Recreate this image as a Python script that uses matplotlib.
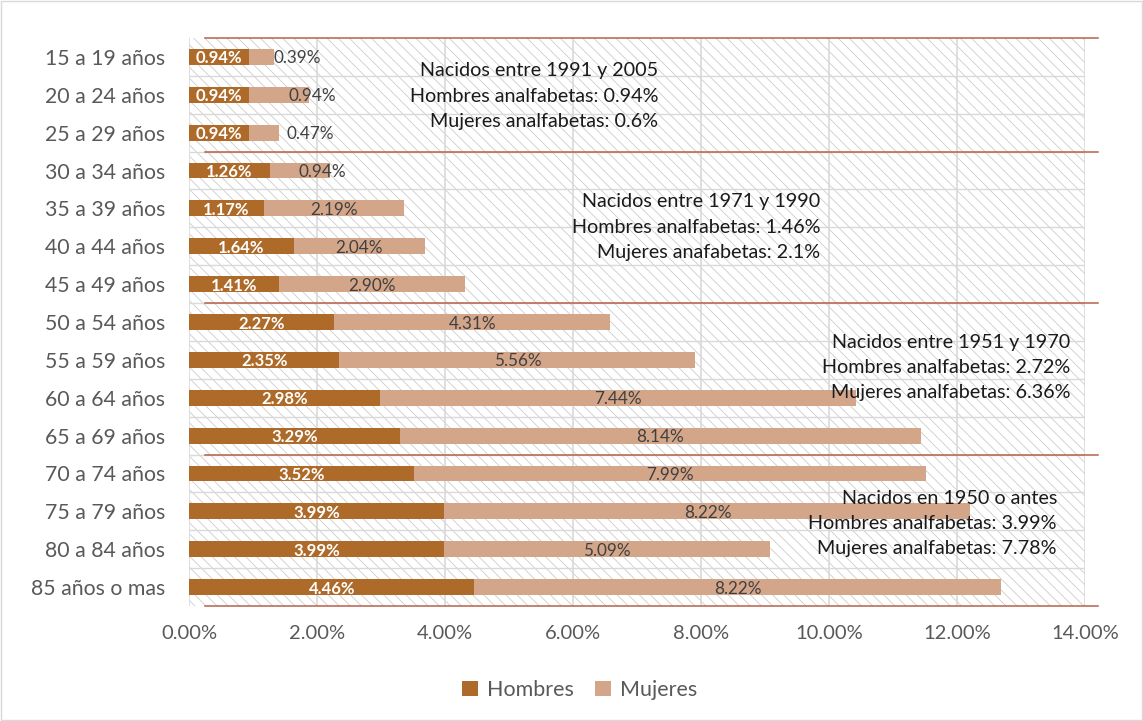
import numpy as np
import matplotlib.pyplot as plt
from matplotlib.patches import Rectangle

plt.rcParams['font.family'] = ['Lato', 'DejaVu Sans']
plt.rcParams['hatch.linewidth'] = 0.6
plt.rcParams['hatch.color'] = '#cccccc'

# data
grupos = ['15 a 19 años', '20 a 24 años', '25 a 29 años', '30 a 34 años',
          '35 a 39 años', '40 a 44 años', '45 a 49 años', '50 a 54 años',
          '55 a 59 años', '60 a 64 años', '65 a 69 años', '70 a 74 años',
          '75 a 79 años', '80 a 84 años', '85 años o mas']
hombres = [0.94, 0.94, 0.94, 1.26, 1.17, 1.64, 1.41, 2.27, 2.35, 2.98,
           3.29, 3.52, 3.99, 3.99, 4.46]
mujeres = [0.39, 0.94, 0.47, 0.94, 2.19, 2.04, 2.90, 4.31, 5.56, 7.44,
           8.14, 7.99, 8.22, 5.09, 8.22]

cortes = [2.5, 6.5, 10.5]  # separacion de cohortes
notas = [
    ['Nacidos entre 1991 y 2005', 'Hombres analfabetas: 0.94%', 'Mujeres analfabetas: 0.6%'],
    ['Nacidos entre 1971 y 1990', 'Hombres analfabetas: 1.46%', 'Mujeres anafabetas: 2.1%'],
    ['Nacidos entre 1951 y 1970', 'Hombres analfabetas: 2.72%', 'Mujeres analfabetas: 6.36%'],
    ['Nacidos en 1950 o antes', 'Hombres analfabetas: 3.99%', 'Mujeres analfabetas: 7.78%'],
]

# layout of the notes (x right edge, y of first line) and small-label shifts
nota_x = [7.33, 9.86, 13.77, 13.56]
nota_y = [0.37, 3.83, 7.53, 11.65]
label_fix = {0: 1.69, 1: 1.92, 2: 1.90, 3: 2.08}

c_h = '#ad6a29'
c_m = '#d3a68a'
gris = '#595959'

fig = plt.figure(figsize=(11.43, 7.21), dpi=100)
ax = fig.add_axes([0.1654, 0.1595, 0.7839, 0.7878])

y = np.arange(len(grupos))
ax.set_xlim(0, 14)
ax.set_ylim(14.5, -0.5)

# hatched background
ax.add_patch(Rectangle((0, -0.5), 14, 15, facecolor='white', edgecolor='#cccccc',
                       hatch='\\\\\\', linewidth=0, zorder=0))
for xv in range(0, 15, 2):
    ax.axvline(xv, color='#d9d9d9', lw=1.2, zorder=1)
for yv in np.arange(0.5, 14, 1):
    ax.axhline(yv, color='#d9d9d9', lw=1.0, zorder=1)

ax.barh(y, hombres, height=0.42, color=c_h, zorder=3, label='Hombres')
ax.barh(y, mujeres, left=hombres, height=0.42, color=c_m, zorder=3, label='Mujeres')

for i in range(len(grupos)):
    ax.text(hombres[i] / 2, y[i] + 0.04, '%.2f%%' % hombres[i], ha='center', va='center',
            color='white', fontsize=12, fontweight='bold', zorder=5)
    xm = label_fix.get(i, hombres[i] + mujeres[i] / 2)
    ax.text(xm, y[i] + 0.04, '%.2f%%' % mujeres[i], ha='center', va='center',
            color='#404040', fontsize=12.3, zorder=5)

for yv in [-0.5] + cortes + [14.5]:
    ax.plot([0.25, 14.2], [yv, yv], color='#b9604a', lw=1.1, zorder=4, clip_on=False)

for k, lineas in enumerate(notas):
    for j, t in enumerate(lineas):
        ax.text(nota_x[k], nota_y[k] + j * 0.67, t, ha='right', va='center',
                fontsize=14.2, color='#1a1a1a', zorder=6)

ax.set_yticks(y)
ax.set_yticklabels(grupos, fontsize=15.3, color=gris)
ax.set_xticks(range(0, 15, 2))
ax.set_xticklabels(['%.2f%%' % v for v in range(0, 15, 2)], fontsize=14.5, color=gris)
ax.tick_params(axis='y', length=0, pad=17)
ax.tick_params(axis='x', length=0, pad=14)
for s in ax.spines.values():
    s.set_visible(False)

fig.legend(loc='center', bbox_to_anchor=(0.507, 0.043), ncol=2, frameon=False,
           fontsize=15.5, labelcolor=gris, handlelength=0.75, handleheight=0.75,
           columnspacing=1.0, handletextpad=0.4)

fig.patches.append(Rectangle((0.001, 0.001), 0.998, 0.998, transform=fig.transFigure,
                             fill=False, edgecolor='#d9d9d9', lw=1))

fig.savefig('out.png', dpi=100)
